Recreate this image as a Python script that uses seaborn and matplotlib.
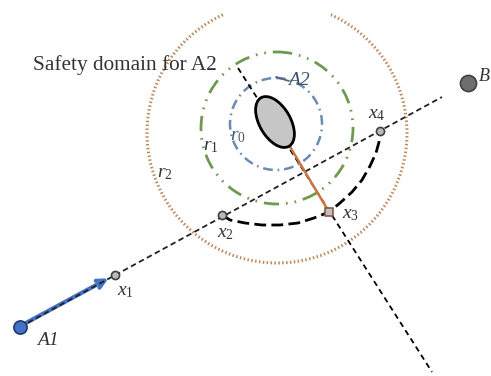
import numpy as np
import pandas as pd
import matplotlib.pyplot as plt
import seaborn as sns
from matplotlib.patches import Circle, Ellipse

sns.set_style("white")
plt.rcParams["font.family"] = ["Liberation Serif", "DejaVu Serif"]
plt.rcParams["mathtext.fontset"] = "custom"
plt.rcParams["mathtext.rm"] = "Liberation Serif"
plt.rcParams["mathtext.it"] = "Liberation Serif:italic"
plt.rcParams["lines.scale_dashes"] = False

# diagram coordinates in pixels (y grows downward)
point_names = ["A1", "x1", "x2", "x3", "x4", "B"]
point_x = [20, 115, 222, 329, 380, 468]
point_y = [327, 275, 215, 212, 131, 83]

# main trajectory A1 -> B
path_x = [20, 442]
path_y = [327, 97]

# detour x2 -> x3 -> x4
arc_x = [222, 230, 245, 262, 280, 298, 314, 329, 340, 352, 362, 370, 376, 379, 380]
arc_y = [215, 220, 223, 225, 225, 223, 218, 212, 203, 192, 180, 166, 153, 142, 131]

# axis through obstacle A2
axis_x = [238, 432]
axis_y = [68, 372]
link_x = [289, 329]
link_y = [145, 212]

# safety rings r0, r1, r2
ring_names = ["r0", "r1", "r2"]
ring_cx = [276, 277, 277]
ring_cy = [124, 128, 133]
ring_r = [46, 76, 130]

obstacle_xy = (275, 122)
obstacle_w, obstacle_h, obstacle_angle = 56, 31, 60

df = pd.DataFrame({"name": point_names, "x": point_x, "y": point_y})

fig = plt.figure(figsize=(4.91, 3.76), dpi=100)
ax = fig.add_axes([0, 0, 1, 1])
ax.set_xlim(0, 491)
ax.set_ylim(376, 0)
ax.axis("off")

# rings
ax.add_patch(Circle((ring_cx[0], ring_cy[0]), ring_r[0], fill=False, ec="#6b8bb3",
                    lw=1.8, ls=(0, (7, 3.5, 1.2, 3.5)), zorder=1))
ax.add_patch(Circle((ring_cx[1], ring_cy[1]), ring_r[1], fill=False, ec="#6e9a50",
                    lw=2, ls=(0, (11, 5, 1.2, 5, 1.2, 5)), zorder=1))
# outer ring, open at the top (cut by the page)
th = np.radians(np.linspace(294.5, 606, 400))
ax.plot(ring_cx[2] + ring_r[2] * np.cos(th), ring_cy[2] + ring_r[2] * np.sin(th),
        color="#bf8a62", lw=2.2, ls=(0, (1.1, 1.7)), zorder=1)

# lines
l = sns.lineplot(x=axis_x, y=axis_y, ax=ax, color="black", lw=1.3, sort=False).lines[-1]
l.set_dashes((4, 3))
l.set_zorder(2)
l = sns.lineplot(x=path_x, y=path_y, ax=ax, color="#222222", lw=1.3, sort=False).lines[-1]
l.set_dashes((4, 2.5))
l.set_zorder(3)
l = sns.lineplot(x=arc_x, y=arc_y, ax=ax, color="black", lw=2, sort=False).lines[-1]
l.set_dashes((8.5, 3.8))
l.set_zorder(3)
l = sns.lineplot(x=link_x, y=link_y, ax=ax, color="#c9773f", lw=1.8, sort=False).lines[-1]
l.set_zorder(4)

# obstacle A2
ax.add_patch(Ellipse(obstacle_xy, obstacle_w, obstacle_h, angle=obstacle_angle,
                     fc="#c6c6c6", ec="black", lw=2, zorder=5))
ax.plot([276, 289], [77, 81], color="#55657f", lw=1.3, zorder=5)

# arrow from A1 to x1 (under the dashed trajectory)
ax.annotate("", xy=(111, 277), xytext=(24, 324),
            arrowprops=dict(arrowstyle="->", color="#4472c4", lw=3, mutation_scale=14),
            zorder=2.5)

# points
sub = df[df.name == "A1"]
sns.scatterplot(data=sub, x="x", y="y", ax=ax, s=90, color="#4472c4",
                edgecolor="#1f3a6e", linewidth=1.2, zorder=6)
sub = df[df.name.isin(["x1", "x2", "x4"])]
sns.scatterplot(data=sub, x="x", y="y", ax=ax, s=34, color="#b8b8c0",
                edgecolor="#404040", linewidth=1.2, zorder=6)
sub = df[df.name == "x3"]
sns.scatterplot(data=sub, x="x", y="y", ax=ax, s=40, marker="s", color="#c0c0c8",
                edgecolor="#8a5a3a", linewidth=1.2, zorder=6)
sub = df[df.name == "B"]
sns.scatterplot(data=sub, x="x", y="y", ax=ax, s=135, color="#6e6e6e",
                edgecolor="#404040", linewidth=1.2, zorder=6)

# labels
tc = "#333333"
ax.text(33, 70, "Safety domain for A2", fontsize=15.3, color=tc, va="baseline")
ax.text(288, 85, "A2", fontsize=14, style="italic", color="#3f4f6f", va="baseline")
ax.text(230, 140, r"$r_0$", fontsize=14, color="#4a5570", va="baseline")
ax.text(203, 150, r"$r_1$", fontsize=14, color=tc, va="baseline")
ax.text(157, 177, r"$r_2$", fontsize=14, color=tc, va="baseline")
ax.text(117, 295, r"$x_1$", fontsize=14, color=tc, va="baseline")
ax.text(217, 237, r"$x_2$", fontsize=14, color=tc, va="baseline")
ax.text(342, 218, r"$x_3$", fontsize=14, color=tc, va="baseline")
ax.text(368, 118, r"$x_4$", fontsize=14, color=tc, va="baseline")
ax.text(37, 345, "A1", fontsize=14, style="italic", color=tc, va="baseline")
ax.text(479, 81, "B", fontsize=13, style="italic", color=tc, va="baseline")

fig.savefig("out.png", dpi=100)
